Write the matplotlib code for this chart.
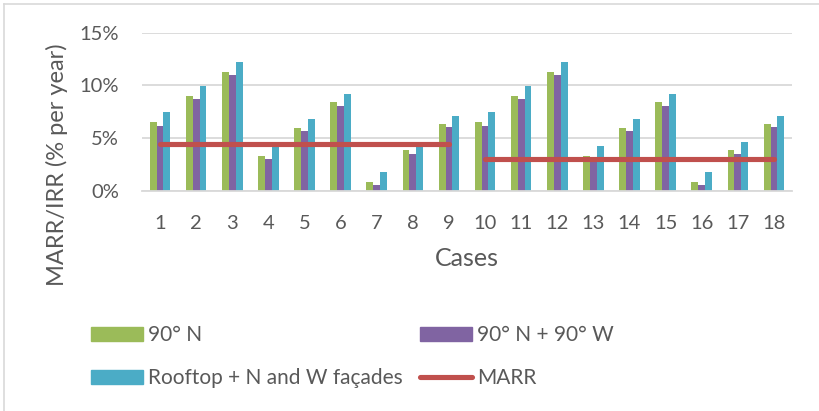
import matplotlib
matplotlib.use("Agg")
import matplotlib.pyplot as plt
from matplotlib.lines import Line2D
from matplotlib.patches import Patch
import numpy as np

cases = [str(i) for i in range(1, 19)]
irr_90n = [6.5, 9.0, 11.3, 3.3, 6.0, 8.4, 0.85, 3.85, 6.35,
           6.5, 9.0, 11.3, 3.3, 6.0, 8.4, 0.85, 3.85, 6.35]
irr_90n_90w = [6.2, 8.7, 11.0, 3.0, 5.7, 8.1, 0.55, 3.55, 6.1,
               6.2, 8.7, 11.0, 3.0, 5.7, 8.1, 0.55, 3.55, 6.1]
irr_rooftop = [7.5, 9.95, 12.2, 4.25, 6.85, 9.2, 1.8, 4.65, 7.1,
               7.5, 9.95, 12.2, 4.25, 6.85, 9.2, 1.8, 4.65, 7.1]
marr = [4.43] * 9 + [3.0] * 9
y_ticks = [0, 5, 10, 15]
y_tick_labels = ["0%", "5%", "10%", "15%"]

GREEN = "#9BBB59"
PURPLE = "#8064A2"
CYAN = "#4BACC6"
RED = "#C0504D"
GRID = "#D9D9D9"
TXT = "#595959"

plt.rcParams["font.family"] = ["Lato", "DejaVu Sans"]

W, H = 819, 411
fig = plt.figure(figsize=(W / 100, H / 100), dpi=100)

ax_l, ax_r, ax_t, ax_b = 142, 792, 32.7, 191
ax = fig.add_axes([ax_l / W, 1 - ax_b / H, (ax_r - ax_l) / W, (ax_b - ax_t) / H])

x = np.arange(len(cases))
bw = 0.19
ax.bar(x - bw, irr_90n, bw, color=GREEN, zorder=2)
ax.bar(x, irr_90n_90w, bw, color=PURPLE, zorder=2)
ax.bar(x + bw, irr_rooftop, bw, color=CYAN, zorder=2)

lw = 3.7
ax.plot(x[:9], marr[:9], color=RED, lw=lw, solid_capstyle="round", zorder=3)
ax.plot(x[9:], marr[9:], color=RED, lw=lw, solid_capstyle="round", zorder=3)

ax.set_xlim(-0.5, len(cases) - 0.5)
ax.set_ylim(0, 15)
ax.set_yticks(y_ticks)
ax.set_yticklabels(y_tick_labels)
ax.set_xticks(x)
ax.set_xticklabels(cases)
ax.tick_params(axis="both", length=0, labelsize=14.5, colors=TXT)
ax.tick_params(axis="y", pad=16.5)
ax.tick_params(axis="x", pad=17)
ax.yaxis.grid(True, color=GRID, lw=1.3, zorder=0)
ax.set_axisbelow(True)
for s in ["top", "right", "left"]:
    ax.spines[s].set_visible(False)
ax.spines["bottom"].set_color(GRID)
ax.spines["bottom"].set_linewidth(1.3)

ax.set_xlabel("Cases", fontsize=18, color=TXT)
ax.set_ylabel("MARR/IRR (% per year)", fontsize=17, color=TXT)
ax_h = ax_b - ax_t
ax.xaxis.set_label_coords(0.5, (ax_b - 247) / ax_h)
ax.yaxis.set_label_coords((68 - ax_l) / (ax_r - ax_l), (ax_b - 165) / ax_h)

handles = [Patch(color=GREEN), Patch(color=CYAN), Patch(color=PURPLE),
           Line2D([], [], color=RED, lw=lw, solid_capstyle="round")]
labels = ["90° N", "Rooftop + N and W façades", "90° N + 90° W", "MARR"]
fs = 15
fpx = fs * 100 / 72
leg = fig.legend(handles, labels, ncol=2, loc="upper left",
                 bbox_to_anchor=(91 / W, 1 - 325 / H), frameon=False,
                 fontsize=fs, labelcolor=TXT, borderpad=0, borderaxespad=0,
                 handlelength=52 / fpx, handleheight=14 / fpx,
                 handletextpad=5 / fpx, columnspacing=17 / fpx,
                 labelspacing=1.12)

# chart border (top and left visible)
fig.add_artist(Line2D([4 / W, 1], [1 - 4 / H, 1 - 4 / H], color=GRID, lw=1.2,
                      transform=fig.transFigure))
fig.add_artist(Line2D([4 / W, 4 / W], [0, 1 - 4 / H], color=GRID, lw=1.2,
                      transform=fig.transFigure))

fig.savefig("out.png", dpi=100)
